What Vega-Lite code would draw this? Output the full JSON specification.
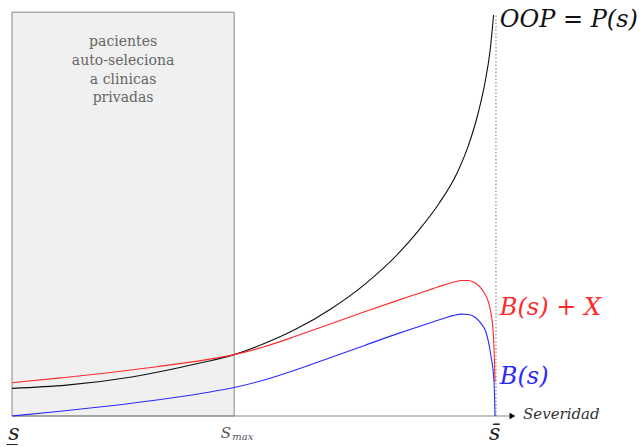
{
  "$schema": "https://vega.github.io/schema/vega-lite/v6.json",
  "autosize": {"type": "fit", "contains": "padding"},
  "width": 642,
  "height": 447,
  "padding": 0,
  "background": "white",
  "config": {"view": {"stroke": null}},
  "datasets": {
    "curves": [
      {"series": "P", "s": 0, "v": 6.9},
      {"series": "P", "s": 11.3, "v": 7.7},
      {"series": "P", "s": 25.1, "v": 9.8},
      {"series": "P", "s": 38.9, "v": 13.2},
      {"series": "P", "s": 46.0, "v": 15.3},
      {"series": "P", "s": 52.1, "v": 18.0},
      {"series": "P", "s": 59.0, "v": 21.8},
      {"series": "P", "s": 66.0, "v": 26.7},
      {"series": "P", "s": 73.1, "v": 32.9},
      {"series": "P", "s": 79.9, "v": 40.4},
      {"series": "P", "s": 84.2, "v": 46.3},
      {"series": "P", "s": 88.4, "v": 53.0},
      {"series": "P", "s": 92.1, "v": 60.5},
      {"series": "P", "s": 94.5, "v": 67.5},
      {"series": "P", "s": 96.5, "v": 75.5},
      {"series": "P", "s": 97.9, "v": 83.0},
      {"series": "P", "s": 99.0, "v": 91.3},
      {"series": "P", "s": 99.7, "v": 100},
      {"series": "BX", "s": 0, "v": 8.3},
      {"series": "BX", "s": 10, "v": 9.5},
      {"series": "BX", "s": 20, "v": 10.8},
      {"series": "BX", "s": 30, "v": 12.3},
      {"series": "BX", "s": 40, "v": 14.0},
      {"series": "BX", "s": 46, "v": 15.3},
      {"series": "BX", "s": 52, "v": 17.2},
      {"series": "BX", "s": 59, "v": 20.0},
      {"series": "BX", "s": 66, "v": 23.0},
      {"series": "BX", "s": 73, "v": 26.0},
      {"series": "BX", "s": 80, "v": 28.9},
      {"series": "BX", "s": 84, "v": 30.5},
      {"series": "BX", "s": 87, "v": 31.7},
      {"series": "BX", "s": 89.5, "v": 32.7},
      {"series": "BX", "s": 91.5, "v": 33.4},
      {"series": "BX", "s": 93, "v": 33.8},
      {"series": "BX", "s": 94.5, "v": 33.8},
      {"series": "BX", "s": 96, "v": 33.1},
      {"series": "BX", "s": 97.4, "v": 31.4},
      {"series": "BX", "s": 98.4, "v": 29.2},
      {"series": "BX", "s": 98.9, "v": 27.2},
      {"series": "BX", "s": 99.6, "v": 21.3},
      {"series": "BX", "s": 99.85, "v": 15.0},
      {"series": "BX", "s": 100, "v": 8.5},
      {"series": "B", "s": 0, "v": 0},
      {"series": "B", "s": 10, "v": 1.2},
      {"series": "B", "s": 20, "v": 2.5},
      {"series": "B", "s": 30, "v": 4.0},
      {"series": "B", "s": 40, "v": 5.8},
      {"series": "B", "s": 46, "v": 7.1},
      {"series": "B", "s": 52, "v": 8.9},
      {"series": "B", "s": 59, "v": 11.6},
      {"series": "B", "s": 66, "v": 14.6},
      {"series": "B", "s": 73, "v": 17.6},
      {"series": "B", "s": 80, "v": 20.6},
      {"series": "B", "s": 84, "v": 22.2},
      {"series": "B", "s": 87, "v": 23.4},
      {"series": "B", "s": 89.5, "v": 24.4},
      {"series": "B", "s": 91.5, "v": 25.1},
      {"series": "B", "s": 93, "v": 25.4},
      {"series": "B", "s": 94.5, "v": 25.3},
      {"series": "B", "s": 96, "v": 24.5},
      {"series": "B", "s": 97.2, "v": 22.9},
      {"series": "B", "s": 98.1, "v": 21.0},
      {"series": "B", "s": 99.1, "v": 15.4},
      {"series": "B", "s": 99.8, "v": 8.5},
      {"series": "B", "s": 100, "v": 0}
    ]
  },
  "encoding": {
    "x": {"type": "quantitative", "scale": {"domain": [-2.484, 130.43], "nice": false, "zero": false}, "axis": null},
    "y": {"type": "quantitative", "scale": {"domain": [-7.73, 103.74], "nice": false, "zero": false}, "axis": null}
  },
  "layer": [
    {
      "data": {"values": [{"s0": 0, "s1": 46, "v0": 0, "v1": 100.7}]},
      "mark": {"type": "rect", "fill": "#f0f0f0", "stroke": "#888888", "strokeWidth": 1},
      "encoding": {
        "x": {"field": "s0", "type": "quantitative"},
        "x2": {"field": "s1"},
        "y": {"field": "v0", "type": "quantitative"},
        "y2": {"field": "v1"}
      }
    },
    {
      "data": {"values": [{"s": 0, "v": 0, "s2": 102.9}]},
      "mark": {"type": "rule", "color": "#888888", "strokeWidth": 1.2},
      "encoding": {
        "x": {"field": "s", "type": "quantitative"},
        "x2": {"field": "s2"},
        "y": {"field": "v", "type": "quantitative"}
      }
    },
    {
      "data": {"values": [{"s": 103.6, "v": 0}]},
      "mark": {"type": "point", "shape": "triangle-right", "filled": true, "color": "black", "size": 45, "opacity": 1},
      "encoding": {
        "x": {"field": "s", "type": "quantitative"},
        "y": {"field": "v", "type": "quantitative"}
      }
    },
    {
      "data": {"values": [{"s": 100.2, "v": 0, "v2": 100}]},
      "mark": {"type": "rule", "color": "#777777", "strokeWidth": 1, "strokeDash": [1.5, 2]},
      "encoding": {
        "x": {"field": "s", "type": "quantitative"},
        "y": {"field": "v", "type": "quantitative"},
        "y2": {"field": "v2"}
      }
    },
    {
      "data": {"name": "curves"},
      "mark": {"type": "line", "interpolate": "monotone", "strokeWidth": 1.1},
      "encoding": {
        "x": {"field": "s", "type": "quantitative"},
        "y": {"field": "v", "type": "quantitative"},
        "color": {"field": "series", "type": "nominal", "scale": {"domain": ["P", "BX", "B"], "range": ["#111111", "#ff2a2a", "#2a2aff"]}, "legend": null},
        "order": {"field": "s", "type": "quantitative"}
      }
    },
    {
      "data": {"values": [
        {"s": 23, "v": 93.3, "t": "pacientes"},
        {"s": 23, "v": 88.5, "t": "auto-seleciona"},
        {"s": 23, "v": 83.8, "t": "a clinicas"},
        {"s": 23, "v": 79.3, "t": "privadas"}
      ]},
      "mark": {"type": "text", "font": "DejaVu Serif", "fontSize": 14, "color": "#666666", "align": "center", "baseline": "middle"},
      "encoding": {
        "x": {"field": "s", "type": "quantitative"},
        "y": {"field": "v", "type": "quantitative"},
        "text": {"field": "t"}
      }
    },
    {
      "data": {"values": [
        {"s": 101.0, "v": 98.8, "t": "OOP = P(s)", "c": "P"},
        {"s": 101.0, "v": 27.0, "t": "B(s) + X", "c": "BX"},
        {"s": 101.0, "v": 9.7, "t": "B(s)", "c": "B"}
      ]},
      "mark": {"type": "text", "font": "DejaVu Serif", "fontStyle": "italic", "fontSize": 24, "align": "left", "baseline": "middle"},
      "encoding": {
        "x": {"field": "s", "type": "quantitative"},
        "y": {"field": "v", "type": "quantitative"},
        "text": {"field": "t"},
        "color": {"field": "c", "type": "nominal", "scale": {"domain": ["P", "BX", "B"], "range": ["#111111", "#ff2a2a", "#2a2aff"]}, "legend": null}
      }
    },
    {
      "data": {"values": [{"s": 105.8, "v": 0.6, "t": "Severidad"}]},
      "mark": {"type": "text", "font": "DejaVu Serif", "fontStyle": "italic", "fontSize": 15, "color": "#333333", "align": "left", "baseline": "middle"},
      "encoding": {
        "x": {"field": "s", "type": "quantitative"},
        "y": {"field": "v", "type": "quantitative"},
        "text": {"field": "t"}
      }
    },
    {
      "data": {"values": [
        {"s": 0.4, "v": -4.3, "t": "s̲"},
        {"s": 99.9, "v": -4.3, "t": "s̄"}
      ]},
      "mark": {"type": "text", "font": "DejaVu Serif", "fontStyle": "italic", "fontSize": 22, "color": "#222222", "align": "center", "baseline": "middle"},
      "encoding": {
        "x": {"field": "s", "type": "quantitative"},
        "y": {"field": "v", "type": "quantitative"},
        "text": {"field": "t"}
      }
    },
    {
      "data": {"values": [{"s": 44.3, "v": -4.2, "t": "S"}]},
      "mark": {"type": "text", "font": "DejaVu Serif", "fontStyle": "italic", "fontSize": 15, "color": "#555555", "align": "center", "baseline": "middle"},
      "encoding": {
        "x": {"field": "s", "type": "quantitative"},
        "y": {"field": "v", "type": "quantitative"},
        "text": {"field": "t"}
      }
    },
    {
      "data": {"values": [{"s": 45.6, "v": -5.2, "t": "max"}]},
      "mark": {"type": "text", "font": "DejaVu Serif", "fontStyle": "italic", "fontSize": 10, "color": "#555555", "align": "left", "baseline": "middle"},
      "encoding": {
        "x": {"field": "s", "type": "quantitative"},
        "y": {"field": "v", "type": "quantitative"},
        "text": {"field": "t"}
      }
    }
  ]
}
